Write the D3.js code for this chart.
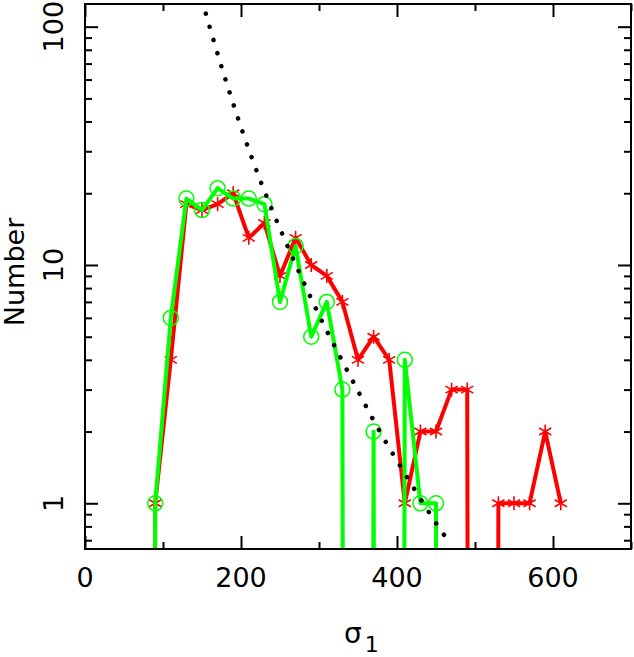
<!DOCTYPE html>
<html lang="en">
  <head>
    <meta charset="utf-8" />
    <title>Number vs sigma_1</title>
    <script type="text/javascript" src="https://cdn.jsdelivr.net/npm/d3@7"></script>
    <style type="text/css">
      body {
        margin: 0;
        background: white;
      }
      text {
        font-family: "DejaVu Sans", sans-serif;
        fill: black;
      }
    </style>
  </head>
  <body>
    <script type="text/javascript">
      var w = 634;
      var h = 657;

      // histogram bins (sigma_1) and counts; 0 = empty bin
      var bins = [70, 90, 110, 130, 150, 170, 190, 210, 230, 250, 270, 290, 310, 330,
                  350, 370, 390, 410, 430, 450, 470, 490, 510, 530, 550, 570, 590, 610];
      var redCounts = [0, 1, 4, 18, 17, 18, 20, 13, 15, 9, 13, 10, 9, 7,
                       4, 5, 4, 1, 2, 2, 3, 3, 0, 1, 1, 1, 2, 1];
      var greenCounts = [0, 1, 6, 19, 17, 21, 19, 19, 18, 7, 12, 5, 7, 3,
                         0, 2, 0, 4, 1, 1, 0, 0, 0, 0, 0, 0, 0, 0];

      // dotted model curve
      var curveX = [150, 175, 200, 225, 250, 275, 300, 325, 350, 375, 400, 425, 450, 465];
      var curveY = [129, 67.9, 37.9, 22.5, 14.2, 9.25, 6.16, 4.24, 2.96, 2.08, 1.51, 1.11, 0.826, 0.7];

      var xMajor = [0, 200, 400, 600];
      var xMinor = [100, 300, 500, 700];
      var yMajor = [1, 10, 100];
      var yMinor = [0.7, 0.8, 0.9, 2, 3, 4, 5, 6, 7, 8, 9, 20, 30, 40, 50, 60, 70, 80, 90];

      var pLeft = 85, pRight = 631, pTop = 4, pBottom = 549;
      var floorVal = 1e-30; // empty bins drop straight off the bottom

      var xScale = d3.scaleLinear().domain([0, 700]).range([pLeft, pRight]);
      var yScale = d3.scaleLog().domain([0.643, 124.5]).range([pBottom, pTop]);

      var svg = d3.select("body").append("svg")
        .attr("width", w)
        .attr("height", h);

      svg.append("clipPath").attr("id", "plotclip")
        .append("rect")
        .attr("x", pLeft).attr("y", pTop)
        .attr("width", pRight - pLeft).attr("height", pBottom - pTop);

      //ticks on all four sides, pointing inwards
      function ticks(axisFn, scale, vals, size, tx, ty) {
        var g = svg.append("g")
          .attr("transform", "translate(" + tx + "," + ty + ")")
          .call(axisFn(scale).tickValues(vals).tickSize(size).tickFormat(""));
        g.select(".domain").remove();
        g.selectAll("line").attr("stroke", "black").attr("stroke-width", 2);
      }
      ticks(d3.axisBottom, xScale, xMajor, -13, 0, pBottom);
      ticks(d3.axisBottom, xScale, xMinor, -7, 0, pBottom);
      ticks(d3.axisTop, xScale, xMajor, -13, 0, pTop);
      ticks(d3.axisTop, xScale, xMinor, -7, 0, pTop);
      ticks(d3.axisLeft, yScale, yMajor, -13, pLeft, 0);
      ticks(d3.axisLeft, yScale, yMinor, -7, pLeft, 0);
      ticks(d3.axisRight, yScale, yMajor, -13, pRight, 0);
      ticks(d3.axisRight, yScale, yMinor, -7, pRight, 0);

      var plot = svg.append("g").attr("clip-path", "url(#plotclip)");

      var red = bins.map(function (b, i) { return { x: b, n: redCounts[i] }; });
      var green = bins.map(function (b, i) { return { x: b, n: greenCounts[i] }; });
      var model = curveX.map(function (v, i) { return { x: v, n: curveY[i] }; });

      var histLine = d3.line()
        .x(function (d) { return xScale(d.x); })
        .y(function (d) { return yScale(d.n > 0 ? d.n : floorVal); });

      //red series with asterisks
      plot.append("path")
        .datum(red)
        .attr("d", histLine)
        .attr("fill", "none")
        .attr("stroke", "#ff0000")
        .attr("stroke-width", 4)
        .attr("stroke-linejoin", "round");

      var r = 7;
      var star = plot.selectAll("g.star")
        .data(red.filter(function (d) { return d.n > 0; }))
        .enter()
        .append("g")
        .attr("class", "star")
        .attr("transform", function (d) {
          return "translate(" + xScale(d.x) + "," + yScale(d.n) + ")";
        });
      [90, 30, -30].forEach(function (a) {
        var rad = a * Math.PI / 180;
        star.append("line")
          .attr("x1", -r * Math.cos(rad)).attr("y1", -r * Math.sin(rad))
          .attr("x2", r * Math.cos(rad)).attr("y2", r * Math.sin(rad))
          .attr("stroke", "#ff0000")
          .attr("stroke-width", 1.6);
      });

      //green series with open circles
      plot.append("path")
        .datum(green)
        .attr("d", histLine)
        .attr("fill", "none")
        .attr("stroke", "#00ff00")
        .attr("stroke-width", 4)
        .attr("stroke-linejoin", "round");

      plot.selectAll("circle.gc")
        .data(green.filter(function (d) { return d.n > 0; }))
        .enter()
        .append("circle")
        .attr("class", "gc")
        .attr("cx", function (d) { return xScale(d.x); })
        .attr("cy", function (d) { return yScale(d.n); })
        .attr("r", 7.5)
        .attr("fill", "none")
        .attr("stroke", "#00ff00")
        .attr("stroke-width", 1.5);

      //dotted model curve
      plot.append("path")
        .datum(model)
        .attr("d", d3.line()
          .x(function (d) { return xScale(d.x); })
          .y(function (d) { return yScale(d.n); })
          .curve(d3.curveMonotoneX))
        .attr("fill", "none")
        .attr("stroke", "black")
        .attr("stroke-width", 4.5)
        .attr("stroke-linecap", "round")
        .attr("stroke-dasharray", "0.1 13.6");

      //frame
      svg.append("rect")
        .attr("x", pLeft).attr("y", pTop)
        .attr("width", pRight - pLeft).attr("height", pBottom - pTop)
        .attr("fill", "none")
        .attr("stroke", "black")
        .attr("stroke-width", 2);

      //tick labels
      svg.selectAll("text.xl")
        .data(xMajor)
        .enter()
        .append("text")
        .attr("class", "xl")
        .attr("x", function (d) { return xScale(d); })
        .attr("y", 587)
        .attr("text-anchor", "middle")
        .style("font-size", "27px")
        .text(function (d) { return d; });

      svg.selectAll("text.yl")
        .data(yMajor)
        .enter()
        .append("text")
        .attr("class", "yl")
        .attr("transform", function (d) {
          return "translate(63," + yScale(d) + ") rotate(-90)";
        })
        .attr("text-anchor", "middle")
        .style("font-size", "27px")
        .text(function (d) { return d; });

      //axis titles
      svg.append("text")
        .attr("transform", "translate(24,272) rotate(-90)")
        .attr("text-anchor", "middle")
        .style("font-size", "27px")
        .text("Number");

      var xt = svg.append("text")
        .attr("x", 344)
        .attr("y", 643)
        .style("font-size", "28px");
      xt.append("tspan").text("σ");
      xt.append("tspan")
        .attr("dx", 3)
        .attr("dy", 9)
        .style("font-size", "22px")
        .text("1");
    </script>
  </body>
</html>
